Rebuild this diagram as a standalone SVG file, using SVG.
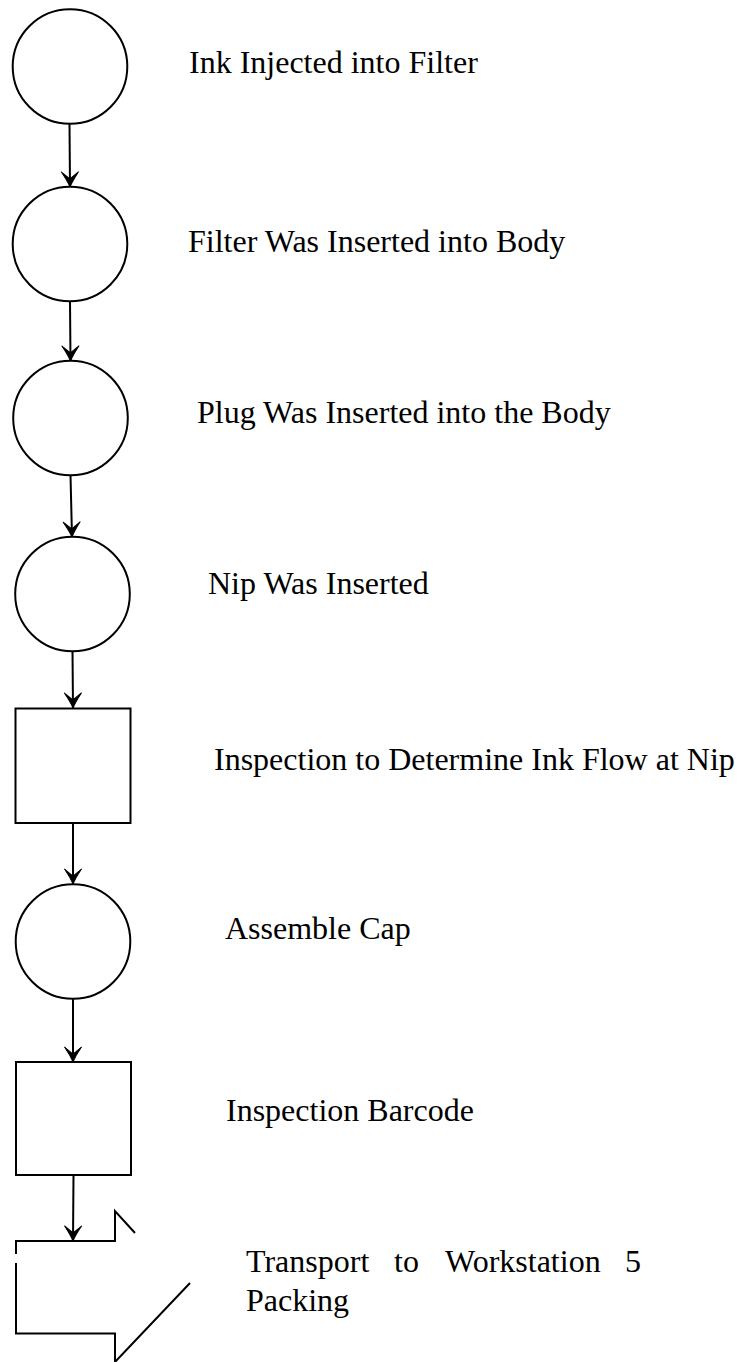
<svg xmlns="http://www.w3.org/2000/svg" width="738" height="1362" viewBox="0 0 738 1362">
<style>
.n{fill:#fff;stroke:#000;stroke-width:2}
.t{font-family:"Liberation Serif","Times New Roman",serif;font-size:32px;fill:#000}
.c{fill:none;stroke:#000;stroke-width:2}
</style>
<defs>
<marker id="ah" markerUnits="userSpaceOnUse" markerWidth="24" markerHeight="24" viewBox="-18 -12 24 24" refX="0" refY="0" orient="auto" overflow="visible">
<path d="M0,0 Q-6,-2.5 -15,-8.5 L-8,0 L-15,8.5 Q-6,2.5 0,0 Z" fill="#000" stroke="#000" stroke-width="1" stroke-linejoin="round"/>
</marker>
</defs>
<rect width="738" height="1362" fill="#fff"/>
<g id="connectors">
<path class="c" d="M69.5,124 L70,187" marker-end="url(#ah)"/>
<path class="c" d="M70,301 L70.5,361" marker-end="url(#ah)"/>
<path class="c" d="M70.5,475 L72,537" marker-end="url(#ah)"/>
<path class="c" d="M72.5,651 L73,708" marker-end="url(#ah)"/>
<path class="c" d="M73,823 L73,884" marker-end="url(#ah)"/>
<path class="c" d="M73,998.5 L73,1062" marker-end="url(#ah)"/>
<path class="c" d="M73.5,1175 L73,1241" marker-end="url(#ah)"/>
</g>
<g id="n1"><circle class="n" cx="70" cy="66.5" r="57.3"/><text class="t" x="189" y="73">Ink Injected into Filter</text></g>
<g id="n2"><circle class="n" cx="70" cy="244" r="57.3"/><text class="t" x="188" y="252">Filter Was Inserted into Body</text></g>
<g id="n3"><circle class="n" cx="70.5" cy="418" r="57.3"/><text class="t" x="197" y="423">Plug Was Inserted into the Body</text></g>
<g id="n4"><circle class="n" cx="72.5" cy="594" r="57.3"/><text class="t" x="208" y="594">Nip Was Inserted</text></g>
<g id="n5"><rect class="n" x="15.5" y="708.5" width="115" height="114.5"/><text class="t" x="214" y="770">Inspection to Determine Ink Flow at Nip</text></g>
<g id="n6"><circle class="n" cx="73" cy="941.5" r="57.3"/><text class="t" x="225" y="939">Assemble Cap</text></g>
<g id="n7"><rect class="n" x="16" y="1062" width="115" height="113"/><text class="t" x="226" y="1121">Inspection Barcode</text></g>
<g id="n8">
<path class="c" d="M16,1254 L16,1241 L115,1241 L115,1211 L135,1233"/>
<path class="c" d="M16,1263 L16,1333.5 L115,1333.5 L115,1362 L190,1283"/>
<text class="t" y="1272"><tspan x="246">Transport</tspan><tspan x="394">to</tspan><tspan x="445">Workstation</tspan><tspan x="625">5</tspan></text>
<text class="t" x="246" y="1311">Packing</text>
</g>
</svg>
